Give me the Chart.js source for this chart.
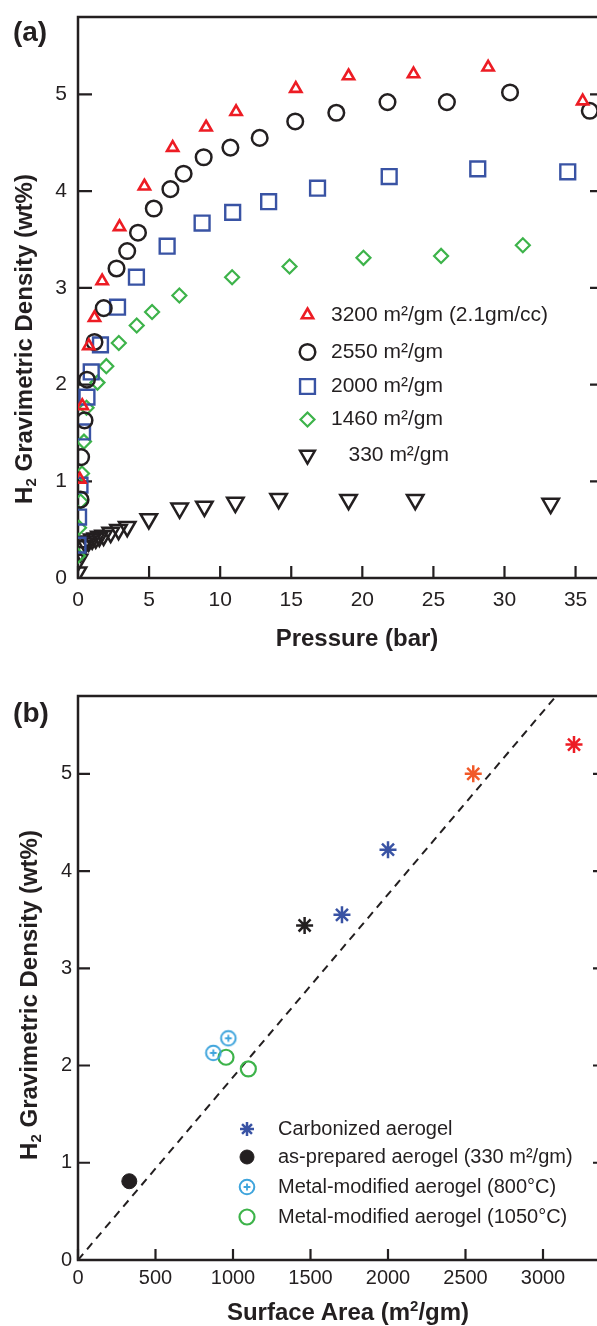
<!DOCTYPE html>
<html>
<head>
<meta charset="utf-8">
<title>H2 gravimetric density</title>
<script src="https://cdn.jsdelivr.net/npm/chart.js@4.4.1/dist/chart.umd.min.js"></script>
<style>
  html, body { margin: 0; padding: 0; background: #fff; }
  body { width: 597px; height: 1326px; overflow: hidden; position: relative;
         font-family: "Liberation Sans", Arial, sans-serif; color: #231f20; }
  canvas { position: absolute; left: 0; }
  #chartA { top: 0; }
  #chartB { top: 660px; }
  .txt { position: absolute; font-weight: bold; white-space: nowrap; transform: translate(-50%, -50%); }
  .ytitle { transform: translate(-50%, -50%) rotate(-90deg); }
  .panel { font-size: 28px; }
  .atitle { font-size: 24px; }
  sub { font-size: 15px; vertical-align: -4px; line-height: 0; }
  sup { font-size: 15px; vertical-align: 9px; line-height: 0; }
</style>
</head>
<body>
<canvas id="chartA" width="620" height="660"></canvas>
<canvas id="chartB" width="620" height="666"></canvas>
<div class="txt panel" style="left:30px; top:32px">(a)</div>
<div class="txt atitle ytitle" style="left:24px; top:339px">H<sub>2</sub> Gravimetric Density (wt%)</div>
<div class="txt atitle" style="left:357px; top:638px">Pressure (bar)</div>
<div class="txt panel" style="left:31px; top:713px">(b)</div>
<div class="txt atitle ytitle" style="left:29px; top:995px">H<sub>2</sub> Gravimetric Density (wt%)</div>
<div class="txt atitle" style="left:348px; top:1312px">Surface Area (m<sup>2</sup>/gm)</div>
<script>
var ink = '#231f20';

// ---- panel (a): isotherms, wt% vs pressure ----
var pressureTicks = [0, 5, 10, 15, 20, 25, 30, 35];
var densityTicks = [0, 1, 2, 3, 4, 5];
var labelsA = ['3200 m\u00b2/gm (2.1gm/cc)', '2550 m\u00b2/gm', '2000 m\u00b2/gm', '1460 m\u00b2/gm', '   330 m\u00b2/gm'];

var p3200 = [0.13, 0.30, 0.76, 1.16, 1.70, 2.92, 4.67, 6.66, 9.01, 11.12, 15.32, 19.03, 23.6, 28.85, 35.5];
var w3200 = [1.02, 1.78, 2.40, 2.69, 3.07, 3.63, 4.05, 4.45, 4.66, 4.82, 5.06, 5.19, 5.21, 5.28, 4.93];

var p2550 = [0.18, 0.22, 0.46, 0.63, 1.16, 1.81, 2.71, 3.46, 4.22, 5.33, 6.50, 7.43, 8.84, 10.72, 12.78, 15.28, 18.17, 21.77, 25.95, 30.39, 36.0];
var w2550 = [0.81, 1.25, 1.63, 2.05, 2.44, 2.79, 3.20, 3.38, 3.57, 3.82, 4.02, 4.18, 4.35, 4.45, 4.55, 4.72, 4.81, 4.92, 4.92, 5.02, 4.83];

var p2000 = [0.0, 0.04, 0.14, 0.32, 0.63, 0.93, 1.58, 2.78, 4.11, 6.27, 8.73, 10.88, 13.41, 16.85, 21.89, 28.12, 34.45];
var w2000 = [0.34, 0.63, 0.96, 1.51, 1.87, 2.13, 2.41, 2.80, 3.11, 3.43, 3.67, 3.78, 3.89, 4.03, 4.15, 4.23, 4.20];

var p1460 = [0.0, 0.07, 0.18, 0.28, 0.42, 0.60, 1.37, 1.99, 2.87, 4.13, 5.21, 7.13, 10.84, 14.88, 20.08, 25.54, 31.29];
var w1460 = [0.23, 0.52, 0.79, 1.08, 1.41, 1.76, 2.02, 2.19, 2.43, 2.61, 2.75, 2.92, 3.11, 3.22, 3.31, 3.33, 3.44];

var p330 = [0.0, 0.07, 0.18, 0.3, 0.5, 0.75, 1.0, 1.25, 1.5, 1.8, 2.3, 2.85, 3.46, 4.98, 7.15, 8.89, 11.07, 14.11, 19.03, 23.72, 33.25];
var w330 = [0.06, 0.19, 0.27, 0.33, 0.36, 0.38, 0.40, 0.41, 0.43, 0.44, 0.47, 0.50, 0.53, 0.61, 0.72, 0.74, 0.78, 0.82, 0.81, 0.81, 0.77];

// ---- panel (b): max uptake vs surface area ----
var areaTicks = [0, 500, 1000, 1500, 2000, 2500, 3000];
var labelsB = ['Carbonized aerogel', 'as-prepared aerogel (330 m\u00b2/gm)', 'Metal-modified aerogel (800\u00b0C)', 'Metal-modified aerogel (1050\u00b0C)'];

var carbArea = [1462, 1703, 2000, 2550, 3200];
var carbWt = [3.44, 3.55, 4.22, 5.00, 5.30];
var carbColors = [ink, '#3953a4', '#3953a4', '#f15a29', '#ed1c24'];

var rawArea = [331];
var rawWt = [0.81];

var m800Area = [873, 970];
var m800Wt = [2.13, 2.28];

var m1050Area = [955, 1099];
var m1050Wt = [2.085, 1.965];

var fitArea = [0, 3085];
var fitWt = [0, 5.8];

function pts(xs, ys) {
  return xs.map(function(v, i) { return {x: v, y: ys[i]}; });
}

// circle with a small plus inside, used as a point style
function circlePlus(color) {
  var c = document.createElement('canvas');
  c.width = 20; c.height = 20;
  var g = c.getContext('2d');
  g.strokeStyle = color;
  g.lineWidth = 2;
  g.beginPath(); g.arc(10, 10, 7.3, 0, Math.PI * 2); g.stroke();
  g.lineWidth = 1.8;
  g.beginPath();
  g.moveTo(10, 6.6); g.lineTo(10, 13.4);
  g.moveTo(6.6, 10); g.lineTo(13.4, 10);
  g.stroke();
  return c;
}

// frame round the plot with inward ticks on left, right and bottom
var framePlugin = {
  id: 'frame',
  beforeDatasetsDraw: function(chart, args, opts) {
    var ctx = chart.ctx, a = chart.chartArea;
    var xs = chart.scales.x, ys = chart.scales.y;
    ctx.save();
    ctx.strokeStyle = ink;
    ctx.lineWidth = 2.5;
    ctx.strokeRect(a.left, a.top, a.right - a.left, a.bottom - a.top);
    ctx.lineWidth = 2.2;
    ctx.beginPath();
    xs.ticks.forEach(function(t) {
      var px = xs.getPixelForValue(t.value);
      ctx.moveTo(px, a.bottom); ctx.lineTo(px, a.bottom - opts.xTick);
    });
    ys.ticks.forEach(function(t) {
      var py = ys.getPixelForValue(t.value);
      ctx.moveTo(a.left, py); ctx.lineTo(a.left + opts.yTick, py);
      ctx.moveTo(a.right, py); ctx.lineTo(a.right - opts.yTick, py);
    });
    ctx.stroke();
    ctx.restore();
  }
};

// legend drawn inside the plot
var keyPlugin = {
  id: 'key',
  afterDatasetsDraw: function(chart, args, opts) {
    var ctx = chart.ctx;
    var row = 0;
    ctx.save();
    ctx.font = opts.font;
    ctx.textBaseline = 'middle';
    ctx.textAlign = 'left';
    chart.data.datasets.forEach(function(ds) {
      if (!ds.label) return;
      var y = opts.rows[row++];
      ctx.save();
      ctx.strokeStyle = ds.legendColor || ds.pointBorderColor;
      ctx.fillStyle = ds.pointBackgroundColor;
      ctx.lineWidth = ds.pointBorderWidth;
      Chart.helpers.drawPoint(ctx, {
        pointStyle: ds.pointStyle,
        rotation: ds.pointRotation || 0,
        radius: ds.legendRadius || ds.pointRadius,
        borderWidth: ds.pointBorderWidth
      }, opts.symbolX, y);
      ctx.restore();
      ctx.fillStyle = ink;
      ctx.fillText(ds.label, opts.textX, y);
    });
    ctx.restore();
  }
};

function axes(xTicks, xMax, yTicks, yMax, size, xPad, yPad, xHeight) {
  var fixTicks = function(list) {
    return function(s) { s.ticks = list.map(function(v) { return {value: v}; }); };
  };
  return {
    x: {
      type: 'linear', min: 0, max: xMax,
      grid: {display: false, drawTicks: false},
      border: {display: false},
      afterBuildTicks: fixTicks(xTicks),
      afterFit: function(s) { s.height = xHeight; s.paddingLeft = 0; s.paddingRight = 0; },
      ticks: {color: ink, padding: xPad, maxRotation: 0, autoSkip: false,
              font: {family: 'Liberation Sans', size: size},
              callback: function(v) { return String(v); }}
    },
    y: {
      type: 'linear', min: 0, max: yMax,
      grid: {display: false, drawTicks: false},
      border: {display: false},
      afterBuildTicks: fixTicks(yTicks),
      afterFit: function(s) { s.width = 78; s.paddingTop = 0; s.paddingBottom = 0; },
      ticks: {color: ink, padding: yPad, autoSkip: false,
              font: {family: 'Liberation Sans', size: size},
              callback: function(v) { return String(v); }}
    }
  };
}

var clear = 'rgba(0,0,0,0)';

new Chart(document.getElementById('chartA'), {
  type: 'scatter',
  data: {
    datasets: [
      {label: labelsA[0], data: pts(p3200, w3200), pointStyle: 'triangle', pointRadius: 6.5,
       pointBorderColor: '#ed1c24', pointBackgroundColor: clear, pointBorderWidth: 2.6},
      {label: labelsA[1], data: pts(p2550, w2550), pointStyle: 'circle', pointRadius: 7.8,
       pointBorderColor: ink, pointBackgroundColor: clear, pointBorderWidth: 2.5},
      {label: labelsA[2], data: pts(p2000, w2000), pointStyle: 'rect', pointRadius: 10.5,
       pointBorderColor: '#3953a4', pointBackgroundColor: clear, pointBorderWidth: 2.4},
      {label: labelsA[3], data: pts(p1460, w1460), pointStyle: 'rectRot', pointRadius: 7,
       pointBorderColor: '#3db34a', pointBackgroundColor: clear, pointBorderWidth: 2.2},
      {label: labelsA[4], data: pts(p330, w330), pointStyle: 'triangle', pointRotation: 180, pointRadius: 9.5,
       legendRadius: 8.5, pointBorderColor: ink, pointBackgroundColor: clear, pointBorderWidth: 2.5}
    ]
  },
  options: {
    responsive: false,
    animation: false,
    events: [],
    layout: {padding: {top: 17, right: 16, left: 0, bottom: 0}},
    scales: axes(pressureTicks, 37, densityTicks, 5.8, 21, 10, 11, 82),
    plugins: {
      legend: {display: false},
      tooltip: {enabled: false},
      frame: {xTick: 12, yTick: 14},
      key: {font: '21px "Liberation Sans"', symbolX: 307.5, textX: 331, rows: [315, 352, 386.5, 419.5, 455]}
    }
  },
  plugins: [framePlugin, keyPlugin]
});

new Chart(document.getElementById('chartB'), {
  type: 'scatter',
  data: {
    datasets: [
      {label: labelsB[0], data: pts(carbArea, carbWt), pointStyle: 'star', pointRadius: 8.5, legendRadius: 7,
       pointBorderColor: carbColors, legendColor: '#3953a4', pointBackgroundColor: clear, pointBorderWidth: 2.5},
      {label: labelsB[1], data: pts(rawArea, rawWt), pointStyle: 'circle', pointRadius: 7.5, legendRadius: 7,
       pointBorderColor: ink, pointBackgroundColor: ink, pointBorderWidth: 1},
      {label: labelsB[2], data: pts(m800Area, m800Wt), pointStyle: circlePlus('#3ea4dc'), pointRadius: 7.5,
       pointBorderColor: '#3ea4dc', pointBackgroundColor: clear, pointBorderWidth: 2},
      {label: labelsB[3], data: pts(m1050Area, m1050Wt), pointStyle: 'circle', pointRadius: 7.5,
       pointBorderColor: '#3db34a', pointBackgroundColor: clear, pointBorderWidth: 2.2},
      {data: pts(fitArea, fitWt), showLine: true, borderColor: ink, borderWidth: 2,
       borderDash: [8, 6], pointRadius: 0, fill: false}
    ]
  },
  options: {
    responsive: false,
    animation: false,
    events: [],
    layout: {padding: {top: 36, right: 15, left: 0, bottom: 0}},
    scales: axes(areaTicks, 3400, densityTicks, 5.8, 20, 6, 6, 66),
    plugins: {
      legend: {display: false},
      tooltip: {enabled: false},
      frame: {xTick: 11, yTick: 12},
      key: {font: '20px "Liberation Sans"', symbolX: 247, textX: 278, rows: [469, 497, 527, 557]}
    }
  },
  plugins: [framePlugin, keyPlugin]
});
</script>
</body>
</html>
